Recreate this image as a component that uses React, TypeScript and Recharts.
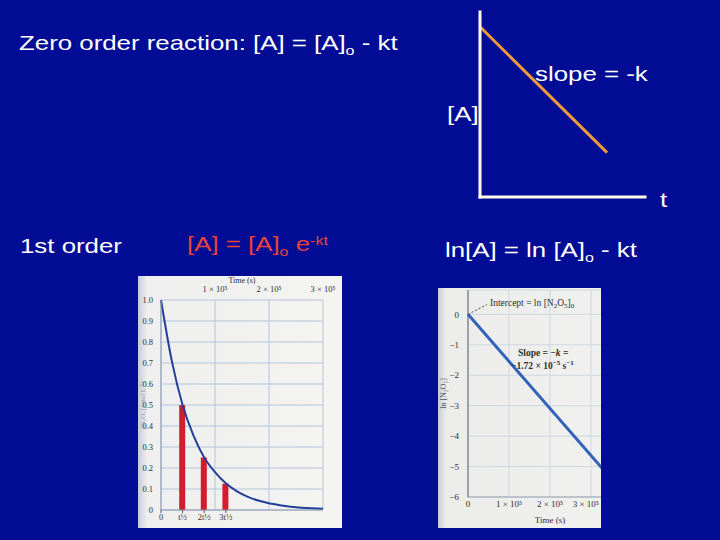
import React from 'react';
import {
  LineChart,
  Line,
  XAxis,
  YAxis,
  ComposedChart,
  Bar,
  CartesianGrid,
  ReferenceLine,
  Label,
} from 'recharts';

// ---------- data ----------
// zero-order schematic ([A] vs t, arbitrary units)
const zeroTime = [0, 0.77];
const zeroConc = [0.92, 0.24];

// first-order decay of [N2O5] (mol/L) vs time (s)
const firstTime = [
  0, 20000, 40000, 60000, 80000, 100000, 120000, 140000, 160000, 180000, 200000, 220000, 240000,
  260000, 280000, 300000,
];
const firstConc = [
  1.0, 0.71, 0.5, 0.355, 0.25, 0.18, 0.127, 0.09, 0.064, 0.045, 0.032, 0.023, 0.016, 0.011, 0.008,
  0.006,
];
const halfLifeBars = [
  null, null, 0.5, null, 0.25, null, 0.125, null, null, null, null, null, null, null, null, null,
];
const firstTopTicks = [100000, 200000, 300000];
const firstTopLabels = ['1 × 10⁵', '2 × 10⁵', '3 × 10⁵'];
const firstBottomTicks = [0, 40000, 80000, 120000];
const firstBottomLabels = ['0', 't½', '2t½', '3t½'];
const firstYTicks = [0, 0.1, 0.2, 0.3, 0.4, 0.5, 0.6, 0.7, 0.8, 0.9, 1.0];
const firstYLabels = ['0', '0.1', '0.2', '0.3', '0.4', '0.5', '0.6', '0.7', '0.8', '0.9', '1.0'];

// ln[N2O5] vs time (s)
const lnTime = [0, 330000];
const lnConc = [0, -5.1];
const lnXTicks = [0, 100000, 200000, 300000];
const lnXLabels = ['0', '1 × 10⁵', '2 × 10⁵', '3 × 10⁵'];
const lnYTicks = [0, -1, -2, -3, -4, -5, -6];
const lnYLabels = ['0', '−1', '−2', '−3', '−4', '−5', '−6'];
const interceptLeader = [
  { x: 0, y: 0 },
  { x: 46000, y: 0.32 },
];

// ---------- styles ----------
const BG = '#030C94';
const sans = '"Liberation Sans", Arial, Helvetica, sans-serif';
const serif = '"Liberation Serif", "Times New Roman", serif';
const inkText = '#2E2E34';

const lookup = (ticks: number[], labels: string[]) => (v: number) => {
  const i = ticks.findIndex((t) => Math.abs(t - v) < 1e-9);
  return i >= 0 ? labels[i] : '';
};

function SlideText({ left, top, color = '#FFFFFF', children }: any) {
  return (
    <div
      style={{
        position: 'absolute',
        left,
        top,
        color,
        fontFamily: sans,
        fontSize: 21,
        lineHeight: '21px',
        whiteSpace: 'nowrap',
        transform: 'scaleX(1.23)',
        transformOrigin: '0 0',
      }}
    >
      {children}
    </div>
  );
}
const Sub = ({ children }: any) => (
  <span style={{ fontSize: 13, position: 'relative', top: 5 }}>{children}</span>
);
const Sup = ({ children }: any) => (
  <span style={{ fontSize: 13, position: 'relative', top: -6 }}>{children}</span>
);
const SmallSub = ({ children }: any) => (
  <span style={{ fontSize: 7, position: 'relative', top: 2 }}>{children}</span>
);
const SmallSup = ({ children }: any) => (
  <span style={{ fontSize: 7, position: 'relative', top: -4 }}>{children}</span>
);

function Note({ left, top, bold, children }: any) {
  return (
    <div
      style={{
        position: 'absolute',
        left,
        top,
        color: inkText,
        fontFamily: serif,
        fontSize: 9.5,
        lineHeight: '11px',
        fontWeight: bold ? 'bold' : 'normal',
        whiteSpace: 'nowrap',
      }}
    >
      {children}
    </div>
  );
}

// the figure is cropped on its right edge: keep the last time label inside the crop
const LnXTick = (props: any) => {
  const { x, y, payload } = props;
  const last = payload.value === lnXTicks[lnXTicks.length - 1];
  return (
    <text
      x={last ? 161 : x}
      y={y}
      dy="0.71em"
      textAnchor={last ? 'end' : 'middle'}
      fontSize={9}
      fill={inkText}
      fontFamily={serif}
    >
      {lookup(lnXTicks, lnXLabels)(payload.value)}
    </text>
  );
};

export default function App() {
  const zeroData = zeroTime.map((t, i) => ({ t, a: zeroConc[i] }));
  const firstData = firstTime.map((t, i) => ({ t, conc: firstConc[i], bar: halfLifeBars[i] }));
  const lnData = lnTime.map((t, i) => ({ t, ln: lnConc[i] }));

  const axisWhite = { stroke: '#FFFBEA', strokeWidth: 3, strokeLinecap: 'square' as const };
  const smallTick = { fontSize: 8.5, fill: inkText, fontFamily: serif };

  return (
    <div
      style={{
        position: 'fixed',
        left: 0,
        top: 0,
        width: 720,
        height: 540,
        background: BG,
        overflow: 'hidden',
      }}
    >
      {/* slide text */}
      <SlideText left={19} top={32}>
        Zero order reaction: [A] = [A]<Sub>o</Sub> - kt
      </SlideText>
      <SlideText left={20} top={235}>
        1st order
      </SlideText>
      <SlideText left={187} top={233} color="#E8433A">
        [A] = [A]<Sub>o</Sub> e<Sup>-kt</Sup>
      </SlideText>
      <SlideText left={445} top={239}>
        ln[A] = ln [A]<Sub>o</Sub> - kt
      </SlideText>

      {/* zero order schematic */}
      <div style={{ position: 'absolute', left: 440, top: 0 }}>
        <LineChart
          width={240}
          height={220}
          data={zeroData}
          margin={{ top: 12, right: 35, bottom: 22, left: 39 }}
        >
          <XAxis
            dataKey="t"
            type="number"
            domain={[0, 1]}
            height={1}
            tick={false}
            tickLine={false}
            axisLine={axisWhite}
          />
          <YAxis
            type="number"
            domain={[0, 1]}
            width={1}
            tick={false}
            tickLine={false}
            axisLine={axisWhite}
          />
          <Line
            dataKey="a"
            type="linear"
            stroke="#EE9A3A"
            strokeWidth={3}
            dot={false}
            isAnimationActive={false}
          />
        </LineChart>
      </div>
      <SlideText left={447} top={103}>
        [A]
      </SlideText>
      <SlideText left={535} top={63}>
        slope = -k
      </SlideText>
      <SlideText left={660} top={189}>
        t
      </SlideText>

      {/* first order decay figure */}
      <div
        style={{
          position: 'absolute',
          left: 138,
          top: 276,
          width: 204,
          height: 252,
          background: 'linear-gradient(90deg, #C4CADF 0px, #EEEFEE 9px, #F4F4F1 100%)',
        }}
      >
        <ComposedChart
          width={204}
          height={252}
          data={firstData}
          margin={{ top: 0, right: 19, bottom: 0, left: 0 }}
        >
          <CartesianGrid xAxisId="top" yAxisId="c" stroke="#B4C5DB" />
          <XAxis
            xAxisId="top"
            orientation="top"
            dataKey="t"
            type="number"
            domain={[0, 300000]}
            ticks={firstTopTicks}
            tickFormatter={lookup(firstTopTicks, firstTopLabels)}
            interval={0}
            height={24}
            axisLine={false}
            tickLine={false}
            tickMargin={2}
            tick={smallTick}
          >
            <Label
              value="Time (s)"
              position="insideTop"
              offset={1}
              style={{ fontSize: 8, fill: inkText, fontFamily: serif }}
            />
          </XAxis>
          <XAxis
            xAxisId="bottom"
            dataKey="t"
            type="number"
            domain={[0, 300000]}
            ticks={firstBottomTicks}
            tickFormatter={lookup(firstBottomTicks, firstBottomLabels)}
            interval={0}
            height={18}
            axisLine={{ stroke: '#8D98AA' }}
            tickLine={{ stroke: '#555' }}
            tickSize={3}
            tickMargin={1}
            tick={smallTick}
          />
          <YAxis
            yAxisId="c"
            type="number"
            domain={[0, 1]}
            ticks={firstYTicks}
            tickFormatter={lookup(firstYTicks, firstYLabels)}
            interval={0}
            width={23}
            axisLine={{ stroke: '#8D98AA' }}
            tickLine={false}
            tickMargin={2}
            tick={smallTick}
          >
            <Label
              value="[N₂O₅] (mol L⁻¹)"
              angle={-90}
              position="insideLeft"
              offset={5}
              style={{ textAnchor: 'middle', fontSize: 7, fill: '#8E8E9E', fontFamily: serif }}
            />
          </YAxis>
          <Bar
            xAxisId="bottom"
            yAxisId="c"
            dataKey="bar"
            fill="#D01E2E"
            barSize={6}
            isAnimationActive={false}
          />
          <Line
            xAxisId="top"
            yAxisId="c"
            dataKey="conc"
            type="monotone"
            stroke="#233F99"
            strokeWidth={2}
            dot={false}
            isAnimationActive={false}
          />
        </ComposedChart>
      </div>

      {/* ln plot figure */}
      <div
        style={{
          position: 'absolute',
          left: 438,
          top: 288,
          width: 163,
          height: 240,
          overflow: 'hidden',
          background: 'linear-gradient(90deg, #C8CBD8 0px, #ECECEA 8px, #F0F0EE 100%)',
        }}
      >
        <LineChart
          width={200}
          height={240}
          data={lnData}
          margin={{ top: 2, right: 6, bottom: 0, left: 0 }}
        >
          <CartesianGrid stroke="#CFD7E2" />
          <XAxis
            dataKey="t"
            type="number"
            domain={[0, 400000]}
            ticks={lnXTicks}
            interval={0}
            height={31}
            axisLine={{ stroke: '#9AA2AE' }}
            tickLine={false}
            tickSize={0}
            tickMargin={4}
            tick={<LnXTick />}
          >
            <Label
              value="Time (s)"
              position="insideBottom"
              offset={5}
              style={{ fontSize: 9, fill: inkText, fontFamily: serif }}
            />
          </XAxis>
          <YAxis
            type="number"
            domain={[-6, 0.8]}
            ticks={lnYTicks}
            tickFormatter={lookup(lnYTicks, lnYLabels)}
            interval={0}
            width={30}
            axisLine={{ stroke: '#55606E' }}
            tickLine={false}
            tickMargin={3}
            tick={{ fontSize: 9, fill: inkText, fontFamily: serif }}
          >
            <Label
              value="ln [N₂O₅]"
              angle={-90}
              position="insideLeft"
              offset={5}
              style={{ textAnchor: 'middle', fontSize: 8, fill: '#55555F', fontFamily: serif }}
            />
          </YAxis>
          <ReferenceLine
            segment={interceptLeader}
            stroke="#444"
            strokeDasharray="2 2"
            ifOverflow="visible"
          />
          <Line
            dataKey="ln"
            type="linear"
            stroke="#2F62B8"
            strokeWidth={3}
            dot={false}
            isAnimationActive={false}
          />
        </LineChart>
      </div>
      <Note left={490} top={298}>
        Intercept = ln [N<SmallSub>2</SmallSub>O<SmallSub>5</SmallSub>]<SmallSub>0</SmallSub>
      </Note>
      <Note left={518} top={348} bold>
        Slope = −<i>k</i> =
      </Note>
      <Note left={511} top={361} bold>
        −1.72 × 10<SmallSup>−5</SmallSup> s<SmallSup>−1</SmallSup>
      </Note>
    </div>
  );
}
